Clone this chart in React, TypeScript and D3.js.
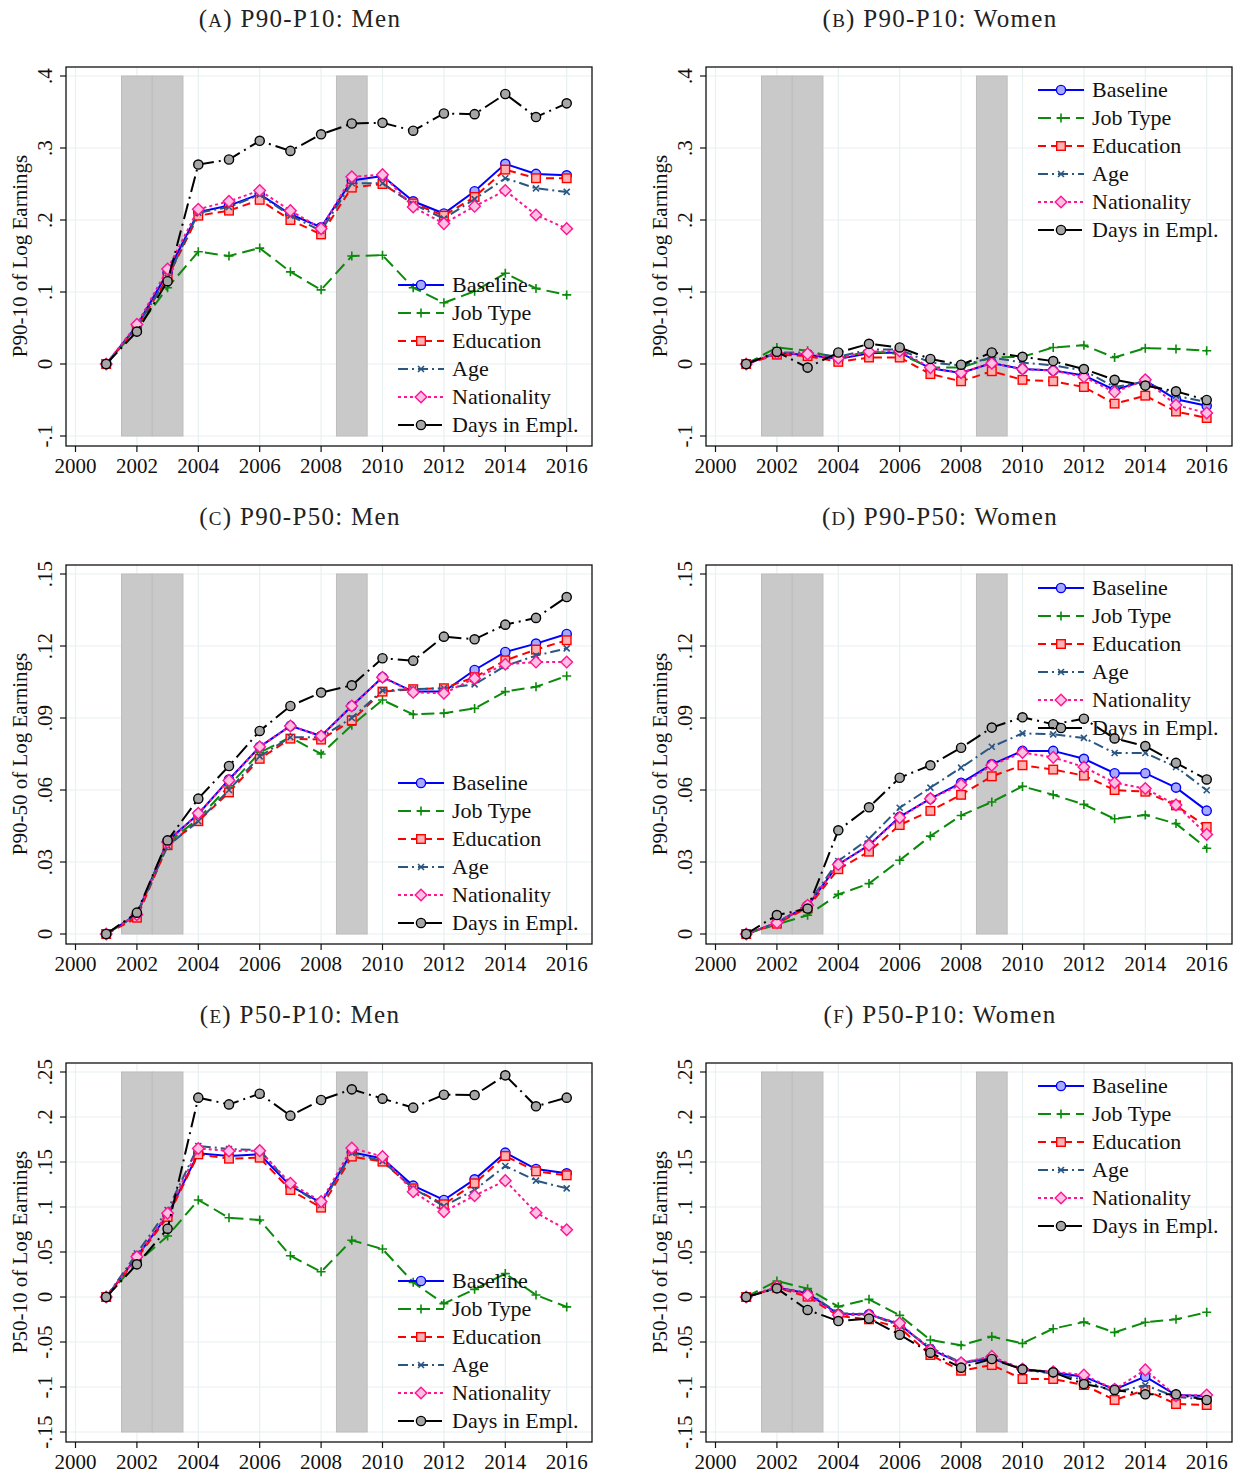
import React from "react";
import * as d3 from "d3";

const years = [2001, 2002, 2003, 2004, 2005, 2006, 2007, 2008, 2009, 2010, 2011, 2012, 2013, 2014, 2015, 2016];
const seriesNames = ["Baseline", "Job Type", "Education", "Age", "Nationality", "Days in Empl."];

// Panel A: P90-P10 Men
const aBaseline = [0, 0.053, 0.127, 0.211, 0.22, 0.236, 0.208, 0.19, 0.255, 0.261, 0.226, 0.209, 0.24, 0.278, 0.264, 0.262];
const aJobType = [0, 0.049, 0.106, 0.156, 0.15, 0.161, 0.128, 0.103, 0.15, 0.151, 0.106, 0.085, 0.101, 0.126, 0.105, 0.096];
const aEducation = [0, 0.05, 0.12, 0.206, 0.213, 0.228, 0.2, 0.18, 0.245, 0.25, 0.223, 0.206, 0.232, 0.27, 0.258, 0.258];
const aAge = [0, 0.052, 0.12, 0.21, 0.218, 0.235, 0.206, 0.185, 0.251, 0.251, 0.222, 0.202, 0.229, 0.258, 0.244, 0.239];
const aNationality = [0, 0.055, 0.132, 0.215, 0.226, 0.241, 0.213, 0.188, 0.26, 0.263, 0.218, 0.195, 0.219, 0.241, 0.207, 0.188];
const aDays = [0, 0.045, 0.115, 0.277, 0.284, 0.31, 0.296, 0.319, 0.334, 0.335, 0.324, 0.348, 0.347, 0.375, 0.343, 0.362];

// Panel B: P90-P10 Women
const bBaseline = [0, 0.015, 0.013, 0.007, 0.015, 0.016, -0.006, -0.0125, 0.0014, -0.007, -0.009, -0.016, -0.036, -0.023, -0.049, -0.058];
const bJobType = [0, 0.023, 0.0185, 0.008, 0.0176, 0.014, -0.005, -0.005, 0.009, 0.01, 0.023, 0.026, 0.009, 0.022, 0.021, 0.0185];
const bEducation = [0, 0.013, 0.011, 0.003, 0.009, 0.009, -0.014, -0.024, -0.01, -0.022, -0.024, -0.032, -0.055, -0.044, -0.066, -0.075];
const bAge = [0, 0.016, 0.016, 0.01, 0.02, 0.02, 0.002, -0.002, 0.009, 0.002, -0.002, -0.009, -0.032, -0.025, -0.044, -0.053];
const bNationality = [0, 0.015, 0.014, 0.008, 0.017, 0.018, -0.005, -0.012, 0.001, -0.007, -0.009, -0.018, -0.039, -0.022, -0.057, -0.068];
const bDays = [0, 0.017, -0.005, 0.016, 0.028, 0.023, 0.007, -0.001, 0.016, 0.01, 0.004, -0.007, -0.022, -0.03, -0.038, -0.05];

// Panel C: P90-P50 Men
const cBaseline = [0, 0.0082, 0.0388, 0.05, 0.0644, 0.078, 0.0867, 0.0825, 0.095, 0.107, 0.101, 0.101, 0.11, 0.1175, 0.121, 0.125];
const cJobType = [0, 0.008, 0.038, 0.048, 0.0617, 0.0756, 0.082, 0.075, 0.087, 0.0975, 0.0915, 0.092, 0.094, 0.101, 0.103, 0.1075];
const cEducation = [0, 0.0068, 0.037, 0.047, 0.059, 0.073, 0.0814, 0.081, 0.089, 0.101, 0.102, 0.1024, 0.107, 0.114, 0.1185, 0.1224];
const cAge = [0, 0.008, 0.0367, 0.047, 0.06, 0.074, 0.082, 0.082, 0.09, 0.1015, 0.102, 0.1024, 0.104, 0.1117, 0.116, 0.119];
const cNationality = [0, 0.008, 0.0383, 0.0503, 0.064, 0.078, 0.0867, 0.0825, 0.095, 0.107, 0.1007, 0.1003, 0.1065, 0.1124, 0.1133, 0.1133];
const cDays = [0, 0.0089, 0.039, 0.0564, 0.07, 0.0846, 0.095, 0.1006, 0.1036, 0.1149, 0.1139, 0.1239, 0.1228, 0.1289, 0.1317, 0.1404];

// Panel D: P90-P50 Women
const dBaseline = [0, 0.0047, 0.0117, 0.029, 0.037, 0.0488, 0.0564, 0.063, 0.0707, 0.0763, 0.0763, 0.073, 0.067, 0.067, 0.061, 0.0514];
const dJobType = [0, 0.004, 0.0078, 0.0165, 0.021, 0.0307, 0.0408, 0.0494, 0.055, 0.0615, 0.058, 0.054, 0.048, 0.0496, 0.046, 0.0357];
const dEducation = [0, 0.0043, 0.011, 0.027, 0.0343, 0.0454, 0.0513, 0.058, 0.0657, 0.0703, 0.0685, 0.066, 0.06, 0.0593, 0.0536, 0.0446];
const dAge = [0, 0.0047, 0.0124, 0.0304, 0.0397, 0.0526, 0.061, 0.0693, 0.078, 0.0836, 0.0832, 0.0817, 0.0754, 0.0754, 0.0696, 0.0599];
const dNationality = [0, 0.0047, 0.012, 0.029, 0.037, 0.0485, 0.0564, 0.0622, 0.0703, 0.0756, 0.0736, 0.0696, 0.063, 0.0606, 0.0538, 0.0415];
const dDays = [0, 0.0079, 0.0106, 0.0432, 0.0528, 0.0651, 0.0703, 0.0776, 0.086, 0.0903, 0.0874, 0.0897, 0.0815, 0.0783, 0.0713, 0.0644];

// Panel E: P50-P10 Men
const eBaseline = [0, 0.0448, 0.091, 0.1596, 0.1567, 0.1585, 0.1233, 0.1048, 0.1607, 0.154, 0.1237, 0.1078, 0.1307, 0.1604, 0.1422, 0.1374];
const eJobType = [0, 0.038, 0.0678, 0.1078, 0.088, 0.0856, 0.0459, 0.028, 0.063, 0.0533, 0.0163, -0.0074, 0.0085, 0.026, 0.0022, -0.011];
const eEducation = [0, 0.043, 0.089, 0.1585, 0.1537, 0.1548, 0.1189, 0.0993, 0.156, 0.1504, 0.1207, 0.103, 0.1263, 0.1567, 0.1396, 0.1352];
const eAge = [0, 0.0485, 0.0967, 0.1678, 0.1644, 0.1633, 0.1244, 0.1022, 0.16, 0.151, 0.1207, 0.1011, 0.1189, 0.1456, 0.1293, 0.1207];
const eNationality = [0, 0.0448, 0.093, 0.165, 0.1622, 0.1626, 0.1263, 0.106, 0.1656, 0.156, 0.117, 0.0948, 0.1126, 0.1293, 0.0937, 0.0748];
const eDays = [0, 0.0363, 0.0759, 0.2215, 0.214, 0.2259, 0.2015, 0.2189, 0.2307, 0.2204, 0.2104, 0.2248, 0.2244, 0.2463, 0.2119, 0.2215];

// Panel F: P50-P10 Women
const fBaseline = [0, 0.0104, 0.004, -0.0189, -0.0193, -0.0304, -0.058, -0.0737, -0.068, -0.0804, -0.084, -0.0885, -0.1026, -0.0885, -0.1089, -0.11];
const fJobType = [0, 0.0178, 0.0093, -0.0107, -0.0026, -0.0204, -0.0478, -0.0537, -0.044, -0.0515, -0.0352, -0.0278, -0.0393, -0.0281, -0.0248, -0.017];
const fEducation = [0, 0.0104, 0.0004, -0.0211, -0.0248, -0.034, -0.0644, -0.0819, -0.0756, -0.0911, -0.0911, -0.0978, -0.1144, -0.1033, -0.1189, -0.12];
const fAge = [0, 0.01, 0.005, -0.018, -0.019, -0.032, -0.056, -0.073, -0.067, -0.081, -0.085, -0.092, -0.106, -0.098, -0.111, -0.114];
const fNationality = [0, 0.0115, 0.0022, -0.02, -0.02, -0.029, -0.059, -0.073, -0.066, -0.08, -0.083, -0.0867, -0.1026, -0.081, -0.1096, -0.1089];
const fDays = [0, 0.0096, -0.0144, -0.0267, -0.024, -0.0419, -0.0619, -0.0785, -0.0689, -0.0804, -0.0837, -0.0967, -0.1033, -0.1081, -0.1081, -0.1144];

const xTicks = [2000, 2002, 2004, 2006, 2008, 2010, 2012, 2014, 2016];
const ticks1090 = [-0.1, 0, 0.1, 0.2, 0.3, 0.4];
const labels1090 = ["-.1", "0", ".1", ".2", ".3", ".4"];
const ticks9050 = [0, 0.03, 0.06, 0.09, 0.12, 0.15];
const labels9050 = ["0", ".03", ".06", ".09", ".12", ".15"];
const ticks5010 = [-0.15, -0.1, -0.05, 0, 0.05, 0.1, 0.15, 0.2, 0.25];
const labels5010 = ["-.15", "-.1", "-.05", "0", ".05", ".1", ".15", ".2", ".25"];
const recessions = [[2001.5, 2002.5], [2002.5, 2003.5], [2008.5, 2009.5]];

const styles = [
  { color: "#0000ff", fill: "#a8a8ff", dash: "", marker: "circle" },
  { color: "#0b8a0b", fill: "none", dash: "13,6", marker: "plus" },
  { color: "#ff0000", fill: "#ffb0b0", dash: "8,5", marker: "square" },
  { color: "#2a5682", fill: "none", dash: "10,4,2,4", marker: "x" },
  { color: "#ff1493", fill: "#ffbfe3", dash: "3,3", marker: "diamond" },
  { color: "#000000", fill: "#a6a6a6", dash: "16,5,2,5", marker: "circle" },
];

const FONT = "'Liberation Serif', 'Times New Roman', serif";

function Marker({ type, x, y, color, fill }) {
  if (type === "circle") return <circle cx={x} cy={y} r={4.6} fill={fill} stroke={color} strokeWidth={1.4} />;
  if (type === "square") return <rect x={x - 4.3} y={y - 4.3} width={8.6} height={8.6} fill={fill} stroke={color} strokeWidth={1.4} />;
  if (type === "diamond") return <path d={`M${x},${y - 5.8}L${x + 5.8},${y}L${x},${y + 5.8}L${x - 5.8},${y}Z`} fill={fill} stroke={color} strokeWidth={1.4} />;
  if (type === "plus") return <path d={`M${x - 4.5},${y}H${x + 4.5}M${x},${y - 4.5}V${y + 4.5}`} stroke={color} strokeWidth={1.6} fill="none" />;
  return <path d={`M${x - 3},${y - 3}L${x + 3},${y + 3}M${x - 3},${y + 3}L${x + 3},${y - 3}`} stroke={color} strokeWidth={1.6} fill="none" />;
}

function Panel({ ox, oy, letter, title, ylabel, domain, ticks, tickLabels, series, legendTop }) {
  const x = d3.scaleLinear().domain([2000, 2016]).range([ox + 75.5, ox + 566.7]);
  const y = d3.scaleLinear().domain(domain).range([oy + 436, oy + 76]);
  const line = d3.line().x((d) => x(d[0])).y((d) => y(d[1]));
  const frameX = ox + 66, frameY = oy + 67, frameW = 526, frameH = 379;
  const legY0 = legendTop ? oy + 76 + 14 : oy + 76 + 209;
  return (
    <g>
      <text x={ox + 300} y={oy + 27} textAnchor="middle" fontFamily={FONT} fontSize={25} letterSpacing={1.3} fill="#222">
        (<tspan fontSize={19}>{letter}</tspan>) {title}
      </text>
      <text transform={`translate(${ox + 27},${(y.range()[0] + y.range()[1]) / 2}) rotate(-90)`} textAnchor="middle" fontFamily={FONT} fontSize={21} fill="#111">
        {ylabel}
      </text>
      <rect x={frameX} y={frameY} width={frameW} height={frameH} fill="#ffffff" />
      {ticks.map((t) => (
        <line key={"gy" + t} x1={frameX} x2={frameX + frameW} y1={y(t)} y2={y(t)} stroke="#e8f0f2" strokeWidth={1.2} />
      ))}
      {xTicks.map((t) => (
        <line key={"gx" + t} x1={x(t)} x2={x(t)} y1={frameY} y2={frameY + frameH} stroke="#e8f0f2" strokeWidth={1.2} />
      ))}
      {recessions.map((r, i) => (
        <rect key={"r" + i} x={x(r[0])} y={y(domain[1])} width={x(r[1]) - x(r[0])} height={y(domain[0]) - y(domain[1])} fill="#c9c9c9" stroke="#bcbcbc" strokeWidth={1} />
      ))}
      {series.map((vals, si) => {
        const st = styles[si];
        const pts = years.map((yr, i) => [yr, vals[i]]);
        return (
          <g key={"s" + si}>
            <path d={line(pts)} fill="none" stroke={st.color} strokeWidth={2} strokeDasharray={st.dash} />
            {pts.map((p, i) => (
              <Marker key={i} type={st.marker} x={x(p[0])} y={y(p[1])} color={st.color} fill={st.fill} />
            ))}
          </g>
        );
      })}
      {seriesNames.map((nm, si) => {
        const st = styles[si];
        const ly = legY0 + si * 28;
        return (
          <g key={"l" + si}>
            <line x1={ox + 398} x2={ox + 444} y1={ly} y2={ly} stroke={st.color} strokeWidth={2} strokeDasharray={st.dash} />
            <Marker type={st.marker} x={ox + 421} y={ly} color={st.color} fill={st.fill} />
            <text x={ox + 452} y={ly + 7} fontFamily={FONT} fontSize={22} fill="#111">{nm}</text>
          </g>
        );
      })}
      <rect x={frameX} y={frameY} width={frameW} height={frameH} fill="none" stroke="#111" strokeWidth={1.3} />
      {ticks.map((t, i) => (
        <g key={"ty" + t}>
          <line x1={frameX - 6} x2={frameX} y1={y(t)} y2={y(t)} stroke="#111" strokeWidth={1.2} />
          <text transform={`translate(${ox + 52},${y(t)}) rotate(-90)`} textAnchor="middle" fontFamily={FONT} fontSize={21} fill="#111">
            {tickLabels[i]}
          </text>
        </g>
      ))}
      {xTicks.map((t) => (
        <g key={"tx" + t}>
          <line x1={x(t)} x2={x(t)} y1={frameY + frameH} y2={frameY + frameH + 6} stroke="#111" strokeWidth={1.2} />
          <text x={x(t)} y={oy + 473} textAnchor="middle" fontFamily={FONT} fontSize={21} fill="#111">{t}</text>
        </g>
      ))}
    </g>
  );
}

export default function App() {
  return (
    <svg width={1237} height={1473} style={{ position: "absolute", left: 0, top: 0, background: "#fff" }}>
      <rect width={1237} height={1473} fill="#fff" />
      <Panel ox={0} oy={0} letter="A" title="P90-P10:  Men" ylabel="P90-10 of Log Earnings" domain={[-0.1, 0.4]} ticks={ticks1090} tickLabels={labels1090}
        series={[aBaseline, aJobType, aEducation, aAge, aNationality, aDays]} legendTop={false} />
      <Panel ox={640} oy={0} letter="B" title="P90-P10:  Women" ylabel="P90-10 of Log Earnings" domain={[-0.1, 0.4]} ticks={ticks1090} tickLabels={labels1090}
        series={[bBaseline, bJobType, bEducation, bAge, bNationality, bDays]} legendTop={true} />
      <Panel ox={0} oy={498} letter="C" title="P90-P50:  Men" ylabel="P90-50 of Log Earnings" domain={[0, 0.15]} ticks={ticks9050} tickLabels={labels9050}
        series={[cBaseline, cJobType, cEducation, cAge, cNationality, cDays]} legendTop={false} />
      <Panel ox={640} oy={498} letter="D" title="P90-P50:  Women" ylabel="P90-50 of Log Earnings" domain={[0, 0.15]} ticks={ticks9050} tickLabels={labels9050}
        series={[dBaseline, dJobType, dEducation, dAge, dNationality, dDays]} legendTop={true} />
      <Panel ox={0} oy={996} letter="E" title="P50-P10:  Men" ylabel="P50-10 of Log Earnings" domain={[-0.15, 0.25]} ticks={ticks5010} tickLabels={labels5010}
        series={[eBaseline, eJobType, eEducation, eAge, eNationality, eDays]} legendTop={false} />
      <Panel ox={640} oy={996} letter="F" title="P50-P10:  Women" ylabel="P50-10 of Log Earnings" domain={[-0.15, 0.25]} ticks={ticks5010} tickLabels={labels5010}
        series={[fBaseline, fJobType, fEducation, fAge, fNationality, fDays]} legendTop={true} />
    </svg>
  );
}
